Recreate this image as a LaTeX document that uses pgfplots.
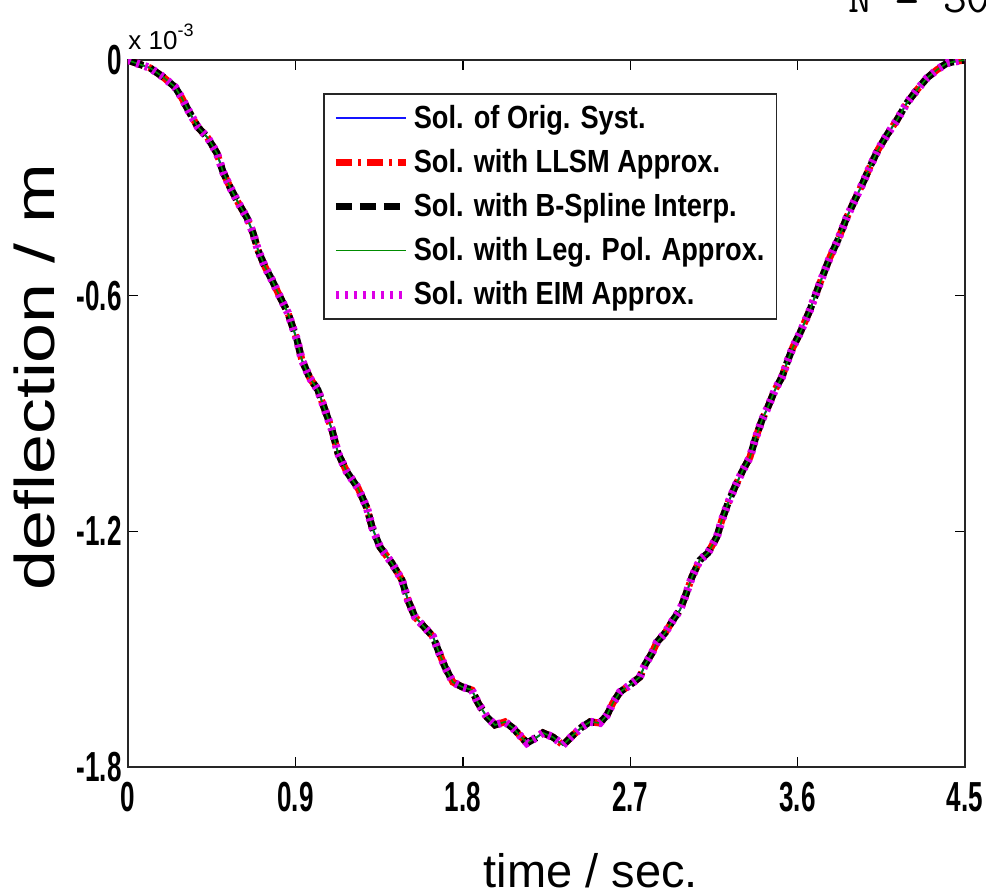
\documentclass[border=0pt]{standalone}
\usepackage{fontspec}
\setmainfont{Liberation Sans}
\newfontfamily\tickfont[FakeStretch=0.62]{Liberation Sans}
\newfontfamily\legfont[FakeStretch=0.85]{Liberation Sans}
\newfontfamily\ylabfont[FakeStretch=1.28]{Liberation Sans}
\usepackage{pgfplots}
\pgfplotsset{compat=1.18}
\definecolor{mblue}{RGB}{20,20,255}
\definecolor{mred}{RGB}{255,0,0}
\definecolor{mgreen}{RGB}{0,140,0}
\definecolor{mmag}{RGB}{220,0,230}

% deflection (x 1e-3 m)
\pgfplotstableread{
t d
0.000 0.000
0.020 -0.004
0.118 -0.020
0.188 -0.043
0.253 -0.069
0.290 -0.097
0.323 -0.127
0.376 -0.171
0.430 -0.199
0.478 -0.237
0.511 -0.285
0.548 -0.323
0.591 -0.362
0.640 -0.402
0.672 -0.440
0.699 -0.484
0.737 -0.527
0.774 -0.560
0.817 -0.603
0.860 -0.644
0.887 -0.682
0.909 -0.713
0.935 -0.764
0.978 -0.810
1.021 -0.840
1.059 -0.891
1.097 -0.942
1.129 -1.001
1.177 -1.049
1.237 -1.090
1.285 -1.141
1.312 -1.189
1.355 -1.240
1.419 -1.281
1.473 -1.324
1.505 -1.375
1.543 -1.418
1.607 -1.451
1.640 -1.468
1.667 -1.502
1.704 -1.545
1.747 -1.584
1.796 -1.596
1.849 -1.604
1.882 -1.637
1.930 -1.673
1.973 -1.693
2.027 -1.685
2.070 -1.701
2.145 -1.739
2.199 -1.724
2.231 -1.713
2.285 -1.724
2.339 -1.744
2.392 -1.719
2.441 -1.698
2.484 -1.685
2.537 -1.688
2.575 -1.668
2.607 -1.637
2.645 -1.609
2.699 -1.591
2.752 -1.571
2.779 -1.540
2.817 -1.510
2.844 -1.482
2.887 -1.459
2.930 -1.426
2.968 -1.400
3.000 -1.360
3.032 -1.316
3.075 -1.273
3.118 -1.255
3.166 -1.214
3.193 -1.171
3.226 -1.128
3.263 -1.087
3.306 -1.044
3.344 -1.011
3.371 -0.967
3.408 -0.917
3.441 -0.883
3.478 -0.840
3.516 -0.807
3.548 -0.764
3.575 -0.731
3.613 -0.695
3.666 -0.637
3.720 -0.568
3.774 -0.502
3.817 -0.458
3.865 -0.400
3.908 -0.356
3.951 -0.313
3.989 -0.272
4.032 -0.229
4.080 -0.191
4.134 -0.153
4.188 -0.109
4.242 -0.076
4.295 -0.046
4.349 -0.025
4.403 -0.008
4.457 -0.003
4.500 0.000
}\defl

\begin{document}
\begin{tikzpicture}
\begin{axis}[
  at={(0,0)}, anchor=south west,
  width=418.5pt, height=353.5pt, scale only axis,
  xmin=0, xmax=4.5, ymin=-1.8, ymax=0,
  xtick={0,0.9,1.8,2.7,3.6,4.5},
  xticklabels={0,0.9,1.8,2.7,3.6,4.5},
  ytick={-1.8,-1.2,-0.6,0},
  yticklabels={-1.8,-1.2,-0.6,0},
  tick align=inside,
  major tick length=5pt,
  axis line style={line width=0.8pt, black!85},
  every tick/.style={black, line width=0.7pt},
  ticklabel style={font=\tickfont\bfseries\fontsize{21}{21}\selectfont, inner sep=2pt},
  xticklabel style={yshift=-5.5pt},
  yticklabel style={xshift=-1pt},
  legend style={at={(0.233,0.953)}, anchor=north west, draw=black!85,
    line width=0.8pt, fill=white,
    font=\legfont\bfseries\fontsize{16}{18}\selectfont,
    inner xsep=4pt, inner ysep=3.5pt, row sep=5pt},
  legend cell align=left,
  legend image code/.code={\draw[#1] (0pt,0pt) -- (35pt,0pt);},
]
\addplot[color=mblue, line width=1pt] table {\defl};
\addlegendentry{Sol. of Orig. Syst.}
\addplot[color=mred, line width=3.5pt, dash pattern=on 8pt off 3pt on 1.5pt off 3pt] table {\defl};
\addlegendentry{Sol. with LLSM Approx.}
\addplot[color=black, line width=3.5pt, dash pattern=on 8pt off 4pt] table {\defl};
\addlegendentry{Sol. with B-Spline Interp.}
\addplot[color=mgreen, line width=0.8pt] table {\defl};
\addlegendentry{Sol. with Leg. Pol. Approx.}
\addplot[color=mmag, line width=4pt, dash pattern=on 1.5pt off 3pt] table {\defl};
\addlegendentry{Sol. with EIM Approx.}
\end{axis}
% exponent of the y axis
\node[anchor=base west, inner sep=0pt, font=\fontsize{13}{13}\selectfont] at (0pt,358.5pt)
  {x 10\raisebox{6.5pt}{\fontsize{9}{9}\selectfont -3}};
% axis labels
\node[anchor=base, inner sep=0pt, font=\fontsize{23.5}{23.5}\selectfont] at (231.5pt,-60pt) {time / sec.};
\node[anchor=base, rotate=90, inner sep=0pt, font=\ylabfont\fontsize{28}{28}\selectfont] at (-36.5pt,195pt) {deflection / m};
% cut-off title at the top right
\node[anchor=base west, inner sep=0pt, font=\ttfamily\fontsize{23}{23}\selectfont] at (360pt,377pt) {N = 30,};
\pgfresetboundingbox
\useasboundingbox (-64pt,-64pt) rectangle (429pt,383.5pt);
\end{tikzpicture}
\end{document}
